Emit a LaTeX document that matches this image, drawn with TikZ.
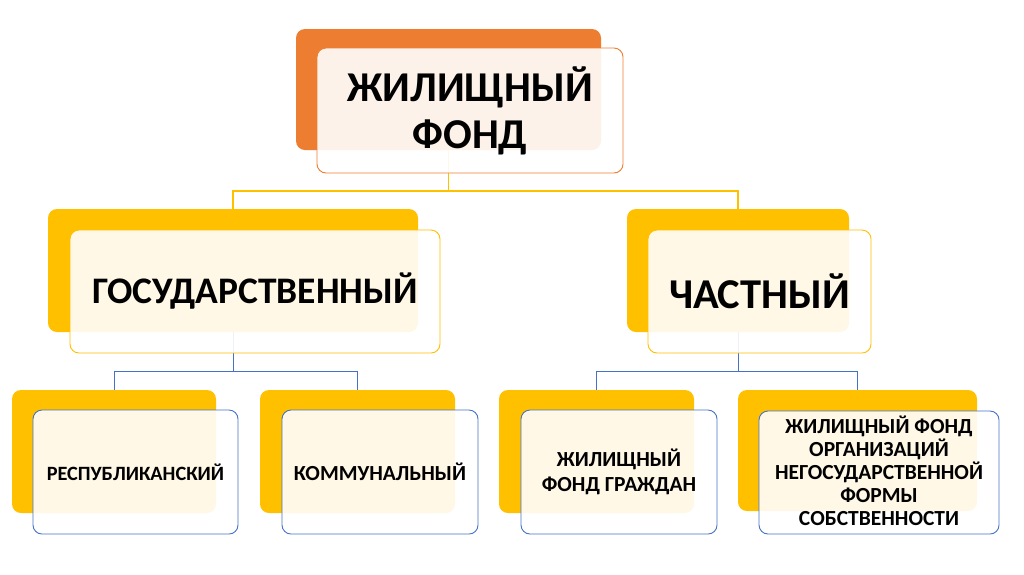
\documentclass[tikz,border=0pt]{standalone}
\usepackage{fontspec}
\setmainfont{Carlito}
\definecolor{orng}{HTML}{ED7D31}
\definecolor{gold}{HTML}{FFC000}
\definecolor{blu}{HTML}{4472C4}
\tikzset{
  back/.style={rounded corners=9pt, inner sep=0pt},
  front/.style={rounded corners=9pt, fill=white, fill opacity=0.9, text opacity=1, line width=0.9pt, align=center, inner sep=0pt, font=\bfseries},
  big/.style={font=\bfseries\fontsize{42.5}{47}\selectfont},
  small/.style={font=\bfseries\fontsize{21.5}{23}\selectfont}
}
\begin{document}
\begin{tikzpicture}[x=1pt,y=-1pt]
    \useasboundingbox (0,0) rectangle (1024,574); % page size
    \fill[white] (0,0) rectangle (1024,574); % background
    % back boxes
    \node[back, fill=orng, minimum width=305, minimum height=121] (topback) at (448.5,89.5) {};
    \node[back, fill=gold, minimum width=370, minimum height=123] (gosback) at (233,270.5) {};
    \node[back, fill=gold, minimum width=222, minimum height=123] (chback) at (738,270.5) {};
    \node[back, fill=gold, minimum width=204, minimum height=123] (respback) at (114,451.5) {};
    \node[back, fill=gold, minimum width=195, minimum height=123] (kommback) at (357.5,451.5) {};
    \node[back, fill=gold, minimum width=195, minimum height=123] (grback) at (596.5,451.5) {};
    \node[back, fill=gold, minimum width=239, minimum height=121] (orgback) at (857.5,450.5) {};
    % connectors
    \coordinate (bustop) at (448.5,191);
    \coordinate (busgos) at (233,371);
    \coordinate (busch) at (738,371);
    \draw[gold, line width=1.2pt] (topback.south) -- (bustop) -| (gosback.north); % to state
    \draw[gold, line width=1.2pt] (bustop) -| (chback.north); % to private
    \draw[blu, line width=1pt] (gosback.south) -- (busgos) -| (respback.north);
    \draw[blu, line width=1pt] (busgos) -| (kommback.north);
    \draw[blu, line width=1pt] (chback.south) -- (busch) -| (grback.north);
    \draw[blu, line width=1pt] (busch) -| (orgback.north);
    % front boxes
    \node[front, big, draw=orng, minimum width=306, minimum height=125] (top) at (470,110.5) {ЖИЛИЩНЫЙ\\ФОНД};
    \node[front, big, draw=gold, minimum width=370, minimum height=123, font=\bfseries\fontsize{37.5}{45}\selectfont] (gos) at (255,291.5) {ГОСУДАРСТВЕННЫЙ};
    \node[front, big, draw=gold, minimum width=223, minimum height=123] (ch) at (759.5,291.5) {ЧАСТНЫЙ};
    \node[front, small, draw=blu, minimum width=205, minimum height=124, font=\bfseries\fontsize{20.3}{24}\selectfont] (resp) at (135.5,472) {РЕСПУБЛИКАНСКИЙ};
    \node[front, small, draw=blu, minimum width=196, minimum height=124] (komm) at (380,472) {КОММУНАЛЬНЫЙ};
    \node[front, small, draw=blu, minimum width=196, minimum height=124, font=\bfseries\fontsize{21.5}{25}\selectfont] (gr) at (619,472) {ЖИЛИЩНЫЙ\\ФОНД ГРАЖДАН};
    \node[front, small, draw=blu, minimum width=240, minimum height=123] (org) at (879,472.5) {ЖИЛИЩНЫЙ ФОНД\\ОРГАНИЗАЦИЙ\\НЕГОСУДАРСТВЕННОЙ\\ФОРМЫ\\СОБСТВЕННОСТИ\vspace{4pt}};
\end{tikzpicture}
\end{document}
